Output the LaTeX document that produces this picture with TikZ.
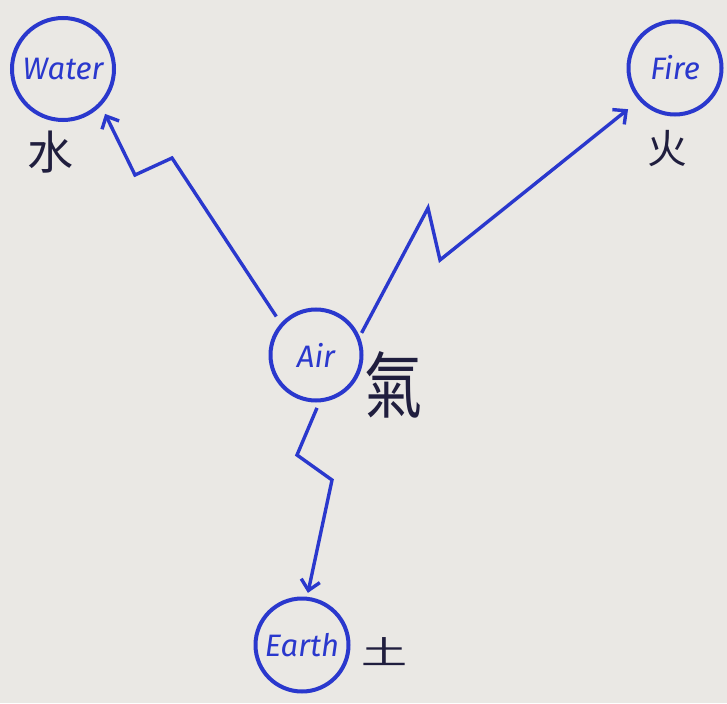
\documentclass[tikz,border=0pt]{standalone}
\usepackage{fontspec}
\setmainfont{Fira Sans}
\newfontfamily\cjk{Noto Sans CJK TC}
\usetikzlibrary{arrows.meta}
\definecolor{pen}{RGB}{42,56,205}
\definecolor{ink}{RGB}{32,30,62}
\definecolor{paper}{RGB}{234,232,228}
\tikzset{
  elem/.style={circle,draw=pen,line width=4pt,text=pen,inner sep=0pt,
    font=\itshape\fontsize{31}{34}\selectfont},
  han/.style={text=ink,inner sep=0pt},
  bolt/.style={draw=pen,line width=3.4pt,line join=miter,
    -{Straight Barb[length=10pt,width=19pt,line width=3.4pt]}}
}
\begin{document}
\begin{tikzpicture}[x=1pt,y=-1pt]
\fill[paper] (0,0) rectangle (727,703);
\useasboundingbox (0,0) rectangle (727,703);
\node[elem,minimum size=102pt] (water) at (63,69) {Water};
\node[elem,minimum size=93pt] (fire) at (675,68) {Fire};
\node[elem,minimum size=91pt] (air) at (316,355) {Air};
\node[elem,minimum size=93pt] (earth) at (302,645) {Earth};
\node[han,font=\cjk\fontsize{46}{46}\selectfont] (shui) at (50,152) {水};
\node[han,font=\cjk\fontsize{40}{40}\selectfont] (huo) at (667,149) {火};
\node[han,font=\cjk\fontsize{58}{58}\selectfont,yscale=1.25] (qi) at (393,385) {氣};
\node[han,font=\cjk\fontsize{46}{46}\selectfont,yscale=0.7] (tu) at (384,652) {土};
\coordinate (w1) at (172,158);
\coordinate (w2) at (135,175);
\coordinate (f1) at (428,208);
\coordinate (f2) at (440,260);
\coordinate (e1) at (297,455);
\coordinate (e2) at (332,480);
\draw[bolt,shorten <=8pt,shorten >=9pt] (air.138) -- (w1) -- (w2) -- (water.-44);
\draw[bolt,shorten <=4pt,shorten >=14pt] (air.23) -- (f1) -- (f2) -- (fire.222);
\draw[bolt,shorten <=6pt,shorten >=4pt] (air.-86) -- (e1) -- (e2) -- (earth.84);
\end{tikzpicture}
\end{document}
